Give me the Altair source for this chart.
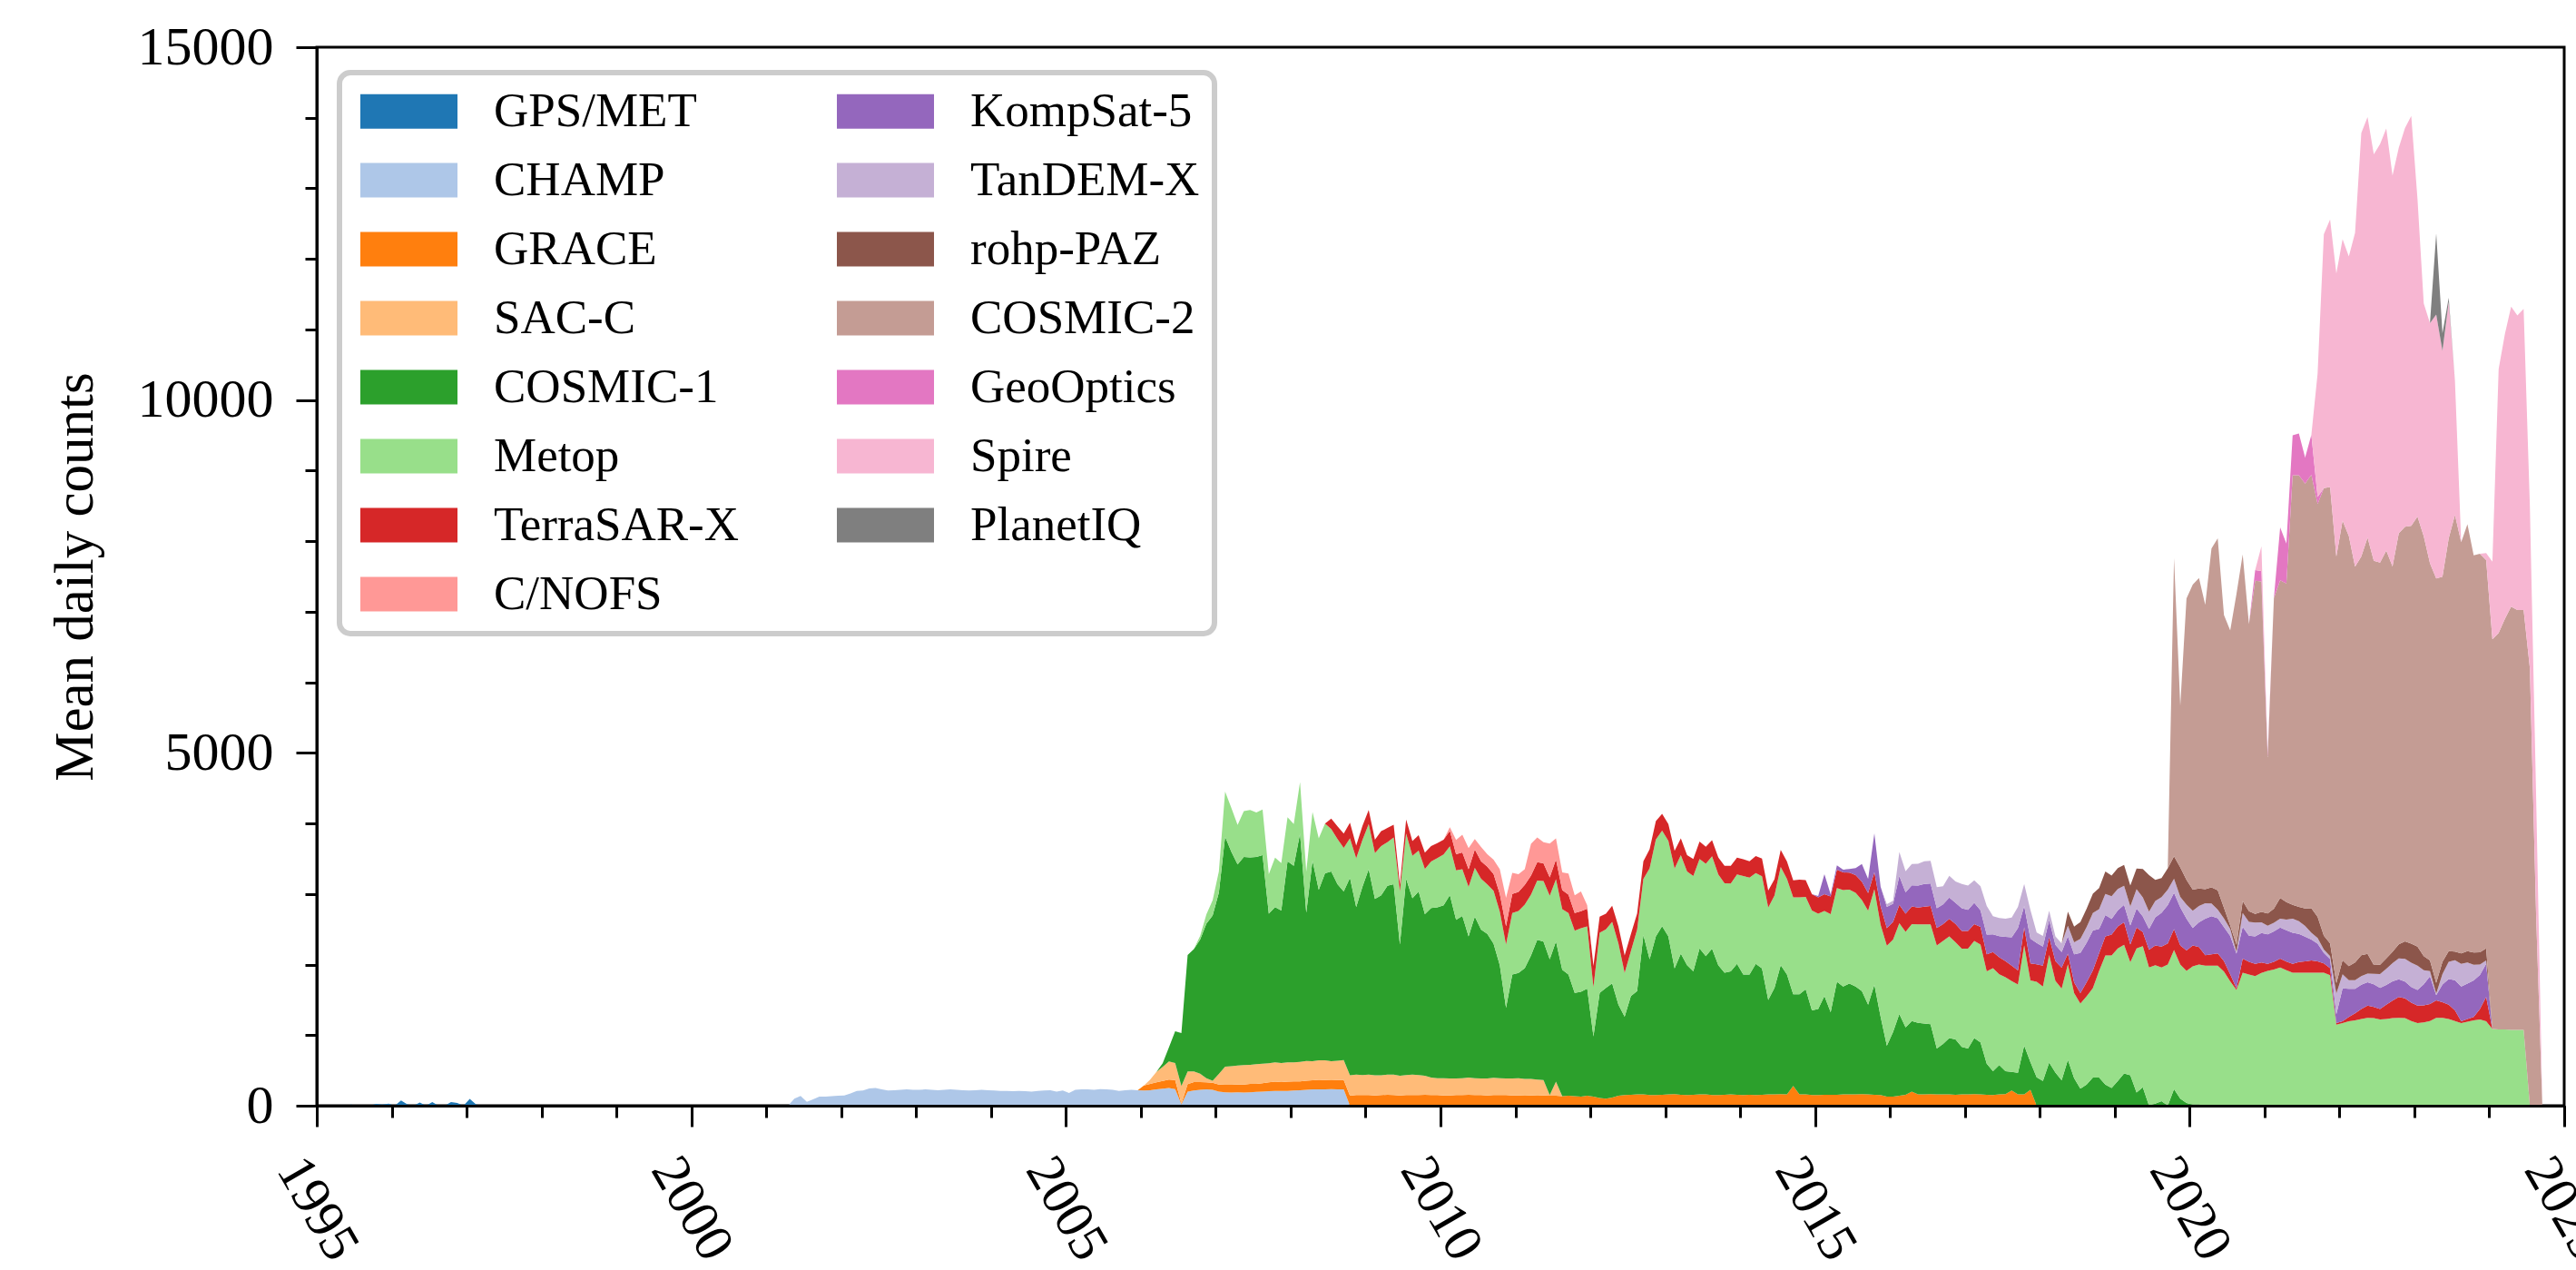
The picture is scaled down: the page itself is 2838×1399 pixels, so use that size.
import altair as alt
import pandas as pd

# ---------------- data (mean daily RO counts, monthly) ----------------
missions = ["GPS/MET", "CHAMP", "GRACE", "SAC-C", "COSMIC-1", "Metop", "TerraSAR-X", "C/NOFS",
            "KompSat-5", "TanDEM-X", "rohp-PAZ", "COSMIC-2", "GeoOptics", "Spire", "PlanetIQ"]
colors = ["#1f77b4", "#aec7e8", "#ff7f0e", "#ffbb78", "#2ca02c", "#98df8a", "#d62728", "#ff9896",
          "#9467bd", "#c5b0d5", "#8c564b", "#c49c94", "#e377c2", "#f7b6d2", "#7f7f7f"]

# first month (year, month) of each record
starts = {
    "GPS/MET": (1995, 6), "CHAMP": (2001, 4), "GRACE": (2006, 1), "SAC-C": (2006, 1),
    "COSMIC-1": (2006, 4), "Metop": (2006, 9), "TerraSAR-X": (2008, 6), "C/NOFS": (2010, 2),
    "KompSat-5": (2015, 1), "TanDEM-X": (2015, 12), "rohp-PAZ": (2018, 5), "COSMIC-2": (2019, 9),
    "GeoOptics": (2020, 10), "Spire": (2020, 11), "PlanetIQ": (2023, 3),
}

gps_met = [15, 0, 0, 0, 25, 15, 30, 0, 75, 20, 0, 45, 0, 50, 0, 0, 50, 40, 0, 95, 20, 0]

champ = [0, 100, 137, 56, 90, 130, 129, 135, 141,
         145, 175, 210, 215, 245, 250, 230, 215, 220, 225, 230, 225,
         225, 230, 225, 220, 225, 230, 225, 220, 215, 220, 225, 220,
         215, 210, 210, 205, 210, 205, 200, 210, 215, 220, 200, 215,
         180, 225, 230, 230, 225, 235, 230, 225, 210, 220, 225, 220,
         215, 220, 230, 240, 250, 235, 20, 200, 215, 225, 230, 225,
         200, 190, 185, 190, 185, 190, 195, 200, 205, 210, 210, 210,
         215, 220, 225, 230, 232, 232, 235, 233, 230, 0]

grace = [70, 90, 100, 110, 120, 130, 10, 105, 120, 110, 100, 100,
         100, 105, 110, 110, 115, 120, 115, 120, 125, 130, 125, 130,
         130, 125, 130, 130, 135, 130, 125, 130, 135, 140, 150, 150,
         150, 145, 150, 155, 150, 145, 150, 150, 150, 155, 150, 150,
         145, 145, 150, 150, 155, 150, 150, 145, 150, 150, 150, 145,
         145, 140, 145, 140, 145, 140, 140, 135, 140, 135, 130, 140,
         130, 110, 100, 115, 140, 150, 155, 160, 160, 150, 150, 155,
         160, 165, 155, 150, 155, 160, 160, 150, 150, 155, 160, 155,
         150, 155, 150, 155, 160, 160, 165, 160, 280, 160, 160, 150,
         150, 155, 155, 155, 160, 160, 160, 165, 160, 155, 150, 130,
         130, 140, 155, 200, 160, 160, 165, 160, 160, 160, 155, 160,
         160, 165, 160, 155, 150, 160, 165, 215, 160, 160, 225, 0]

sac_c = [0, 60, 150, 200, 257, 240, 250, 180, 150, 120, 60, 30,
         150, 257, 265, 270, 275, 270, 280, 275, 270, 275, 270, 275,
         270, 275, 280, 270, 275, 280, 270, 275, 280, 290, 290, 285,
         290, 285, 280, 285, 290, 280, 285, 290, 285, 270, 250, 240,
         245, 240, 235, 240, 245, 240, 235, 240, 245, 240, 235, 240,
         245, 240, 235, 230, 220, 10, 200, 0]

cosmic1 = [50, 200, 450, 750, 1650, 1735, 1900, 2190, 2340,
           2570, 3260, 3040, 2850, 2950, 2940, 2935, 2956, 2120, 2200, 2160, 2850,
           2785, 3235, 2100, 2845, 2415, 2650, 2690, 2500, 2390, 2800, 2375, 2670,
           2910, 2500, 2550, 2675, 2700, 1860, 2780, 2500, 2600, 2290, 2400, 2420,
           2450, 2600, 2250, 2300, 2000, 2290, 2110, 2050, 1900, 1600, 1000, 1475,
           1490, 1570, 1750, 1980, 1960, 1925, 1990, 1790, 1720, 1465, 1485, 1520,
           850, 1490, 1570, 1620, 1290, 1110, 1400, 1465, 2260, 1925, 2250, 2390,
           2240, 1780, 2000, 1840, 1750, 2070, 1960, 2075, 1840, 1730, 1745, 1855,
           1710, 1705, 1860, 1790, 1340, 1510, 1825, 1700, 1300, 1420, 1490, 1200,
           1220, 1400, 1170, 1600, 1530, 1570, 1530, 1460, 1270, 1560, 1110, 720,
           916, 1160, 956, 1000, 1015, 1005, 990, 650, 715, 800, 784, 672,
           650, 795, 736, 441, 339, 415, 324, 265, 307, 693, 392, 403,
           350, 610, 470, 360, 650, 390, 240, 300, 400, 400, 300, 250,
           350, 458, 430, 187, 261, 0, 30, 64, 0, 236, 100, 39,
           15, 15, 0]

metop = [0, 50, 130, 215,
         300, 640, 620, 557, 650, 670, 630, 645, 560, 700, 673, 622,
         592, 730, 580, 686, 730, 707, 600, 640, 620, 560, 690, 660,
         640, 650, 700, 620, 660, 750, 640, 600, 580, 640, 660, 700,
         720, 690, 700, 660, 700, 690, 720, 700, 750, 760, 900, 870,
         880, 900, 860, 840, 860, 900, 880, 860, 870, 880, 900, 880,
         700, 850, 830, 870, 870, 620, 635, 870, 794, 1288, 1373, 1352,
         1352, 1416, 1395, 1330, 1351, 1265, 1309, 1308, 1287, 1266, 1244, 1266,
         1394, 1373, 1287, 1308, 1308, 1309, 1394, 1352, 1373, 1373, 1308, 1416,
         1352, 1204, 1390, 1330, 1366, 1333, 1326, 1290, 1333, 1354, 1304, 1416,
         1309, 1287, 1351, 1373, 1394, 1404, 1415, 1459, 1459, 1438, 1376, 1394,
         1416, 1374, 1389, 1309, 1459, 1287, 1330, 1285, 1250, 1416, 1159, 1352,
         1340, 1526, 1300, 1300, 1354, 1206, 1206, 1250, 1266, 1510, 1830, 1880,
         1880, 1822, 1604, 2043, 2000, 1960, 1960, 1896, 2000, 1970, 1900, 1870,
         1960, 1984, 1984, 1984, 1984, 1900, 1763, 1640, 1886, 1860, 1837, 1880,
         1910, 1930, 1960, 1920, 1886, 1886, 1886, 1886, 1886, 1886, 1850, 1148,
         1170, 1196, 1210, 1230, 1246, 1240, 1221, 1230, 1240, 1246, 1240, 1200,
         1172, 1180, 1200, 1246, 1246, 1230, 1200, 1172, 1190, 1210, 1221, 1196,
         1088, 1080, 1080, 1073, 1073, 1073, 0]

terrasar_x = [0, 150, 180, 200, 220, 180, 200,
              200, 190, 210, 200, 180, 100, 200, 210, 220, 230, 220, 210,
              210, 220, 230, 240, 250, 260, 250, 250, 240, 250, 260, 270,
              270, 280, 270, 260, 250, 260, 280, 270, 260, 250, 240, 250,
              300, 230, 220, 230, 240, 250, 240, 230, 250, 270, 260, 240,
              240, 250, 240, 230, 240, 250, 240, 230, 240, 250, 250, 240,
              240, 230, 240, 250, 240, 230, 240, 250, 240, 250, 240, 230,
              230, 240, 250, 260, 250, 240, 250, 260, 250, 240, 260, 250,
              250, 260, 260, 250, 240, 250, 260, 250, 240, 250, 260, 250,
              250, 240, 250, 240, 230, 240, 230, 220, 200, 260, 240, 250,
              295, 250, 280, 295, 150, 150, 150, 200, 250, 250, 270, 295,
              310, 320, 250, 296, 200, 250, 280, 295, 300, 295, 271, 290,
              296, 250, 148, 160, 173, 150, 100, 24, 197, 180, 172, 150,
              100, 110, 123, 123, 123, 150, 160, 172, 160, 130, 98, 24,
              25, 60, 100, 140, 172, 160, 148, 200, 250, 295, 280, 260,
              246, 240, 240, 246, 220, 200, 150, 24, 40, 49, 150, 345,
              0]

c_nofs = [50, 200, 250, 300, 150, 200, 180, 200, 350, 400, 300,
          250, 220, 450, 350, 300, 480, 300, 250, 300, 250, 280, 50,
          0]

kompsat5 = [20, 280, 30, 60, 40, 50, 100, 250, 200, 550, 280, 300,
            257, 407, 300, 301, 310, 322, 320, 279, 278, 300, 301, 322,
            300, 300, 233, 279, 250, 300, 343, 400, 600, 300, 350, 300,
            271, 246, 230, 222, 246, 400, 567, 560, 566, 344, 300, 222,
            230, 247, 270, 270, 221, 295, 400, 480, 542, 517, 541, 450,
            246, 350, 517, 541, 500, 480, 542, 492, 450, 369, 390, 418,
            418, 430, 443, 443, 443, 400, 350, 295, 250, 148, 130, 123,
            468, 400, 345, 345, 330, 320, 300, 280, 271, 250, 240, 222,
            222, 300, 394, 74, 250, 363, 430, 493, 500, 517, 480, 468,
            0]

tandem_x = [40,
            43, 343, 301, 300, 310, 322, 320, 300, 258, 309, 300, 343,
            343, 321, 343, 407, 257, 257, 257, 280, 300, 313, 407, 150,
            150, 130, 120, 123, 150, 170, 200, 220, 250, 280, 300, 320,
            300, 270, 271, 271, 271, 246, 230, 221, 221, 197, 148, 200,
            246, 230, 221, 180, 123, 123, 100, 24, 197, 197, 197, 150,
            123, 123, 123, 150, 197, 180, 150, 99, 80, 49, 40, 295,
            200, 123, 123, 123, 123, 150, 197, 230, 260, 295, 320, 344,
            344, 200, 74, 24, 150, 247, 280, 320, 300, 222, 150, 49,
            0]

rohp_paz = [200, 221, 240, 260, 271, 300, 320, 295,
            296, 296, 296, 295, 400, 517, 300, 271, 300, 320, 418, 350,
            300, 250, 197, 230, 271, 150, 49, 99, 172, 150, 123, 150,
            173, 200, 295, 250, 197, 200, 250, 345, 300, 197, 180, 148,
            197, 200, 250, 295, 280, 123, 130, 148, 160, 200, 250, 271,
            271, 200, 150, 150, 172, 150, 123, 148, 160, 172, 172, 172,
            0]

cosmic2 = [0, 4225, 2290, 3990,
           4320, 4400, 4030, 4800, 4990, 4150, 4180, 4970, 4910, 4070, 4720, 4680,
           2215, 4400, 4500, 4515, 6090, 6120, 6020, 6144, 5850, 6340, 6470, 6046,
           6230, 6095, 5610, 5650, 5900, 5730, 5700, 5780, 5460, 5825, 5875, 5920,
           6095, 5950, 5630, 5730, 5460, 5850, 6190, 5830, 6050, 5630, 5650, 5500,
           5520, 5620, 5820, 6000, 5950, 5950, 6200, 2700, 0]

geooptics = [0, 150, 150,
             50, 0, 750, 565, 566, 591, 370, 566, 100, 0]

spire = [0, 350,
         0, 0, 0, 0, 0, 0, 0, 0, 1750, 3600, 3790, 4010,
         3990, 3960, 4730, 6000, 5960, 5760, 5930, 5980, 5540, 5465, 5650, 5810,
         4500, 3300, 3400, 3740, 3200, 3350, 1900, 0, 0, 0, 0, 100,
         1100, 3740, 4035, 4250, 4175, 4270, 2300, 1700, 0]

planetiq = [0, 1150, 250, 60, 0]

values = {
    "GPS/MET": gps_met, "CHAMP": champ, "GRACE": grace, "SAC-C": sac_c, "COSMIC-1": cosmic1,
    "Metop": metop, "TerraSAR-X": terrasar_x, "C/NOFS": c_nofs, "KompSat-5": kompsat5,
    "TanDEM-X": tandem_x, "rohp-PAZ": rohp_paz, "COSMIC-2": cosmic2, "GeoOptics": geooptics,
    "Spire": spire, "PlanetIQ": planetiq,
}

# axis ticks
x_minor = list(range(1995, 2026))
x_major = [1995, 2000, 2005, 2010, 2015, 2020, 2025]
y_minor = list(range(0, 15001, 1000))
y_major = [0, 5000, 10000, 15000]

# ---------------- table ----------------
rows = []
for idx, name in enumerate(missions):
    sy, sm = starts[name]
    vals = values[name]
    for k in range(360):  # 1995-01 .. 2024-12
        yr, mo = 1995 + k // 12, k % 12 + 1
        off = (yr - sy) * 12 + (mo - sm)
        v = vals[off] if 0 <= off < len(vals) else 0
        rows.append({"time": yr + (mo - 0.5) / 12, "count": v, "mission": name, "idx": idx})
df = pd.DataFrame(rows)

ticks_df = pd.DataFrame({"time": x_major, "count": [0, 5000, 10000, 15000, 0, 0, 0]})

FONT = "Liberation Serif"
W, H = 2476, 1166
xscale = alt.Scale(domain=[1995, 2025], nice=False, zero=False)
yscale = alt.Scale(domain=[0, 15000], nice=False)

areas = alt.Chart(df).mark_area(interpolate="linear").encode(
    x=alt.X("time:Q", scale=xscale,
            axis=alt.Axis(orient="bottom", values=x_minor, labels=False, tickSize=13, tickWidth=3,
                          tickColor="black", domain=False, grid=False, title=None)),
    y=alt.Y("count:Q", stack="zero", scale=yscale,
            axis=alt.Axis(orient="left", values=y_minor, labels=False, tickSize=13, tickWidth=3,
                          tickColor="black", domain=False, grid=False, title=None)),
    color=alt.Color("mission:N", scale=alt.Scale(domain=missions, range=colors),
                    legend=alt.Legend(
                        title=None, orient="none", legendX=25, legendY=28, columns=2,
                        symbolType="M-2.816,-1L2.816,-1L2.816,1L-2.816,1Z", symbolSize=1444,
                        symbolStrokeWidth=0, symbolOpacity=1, symbolOffset=34,
                        labelFont=FONT, labelFontSize=53, labelColor="black", labelLimit=800,
                        labelOffset=67, rowPadding=22, columnPadding=100, padding=16,
                        strokeColor="#cccccc", fillColor="white", cornerRadius=12)),
    order=alt.Order("idx:Q", sort="ascending"),
)

major = alt.Chart(ticks_df).mark_point(opacity=0).encode(
    x=alt.X("time:Q", scale=xscale,
            axis=alt.Axis(orient="bottom", values=x_major, format="d", tickSize=23, tickWidth=3,
                          tickColor="black", domain=True, domainWidth=3, domainColor="black",
                          grid=False, title=None, labelFont=FONT, labelFontSize=60,
                          labelColor="black", labelAngle=60, labelAlign="center",
                          labelBaseline="middle", labelPadding=90, labelOverlap=False,
                          labelFlush=False, labelBound=False, zindex=1)),
    y=alt.Y("count:Q", scale=yscale,
            axis=alt.Axis(orient="left", values=y_major, format="d", tickSize=23, tickWidth=3,
                          tickColor="black", domain=True, domainWidth=3, domainColor="black",
                          grid=False, labelFont=FONT, labelFontSize=60, labelColor="black",
                          labelPadding=25, title="Mean daily counts", titleFont=FONT,
                          titleFontSize=61, titleFontWeight="normal", titleColor="black",
                          titleAngle=270, titleAlign="center", titleBaseline="alphabetic",
                          titleX=-248, titleY=583, zindex=1)),
)

chart = alt.layer(areas, major).resolve_axis(x="independent", y="independent").properties(
    width=W, height=H,
    autosize=alt.AutoSizeParams(type="none"),
    padding={"left": 349, "top": 52, "right": 13, "bottom": 181},
    background="white",
).configure_view(
    stroke="black", strokeWidth=3
).configure_legend(
    strokeWidth=6
)

chart.save("out.html", embed_options={"renderer": "svg", "actions": False})
